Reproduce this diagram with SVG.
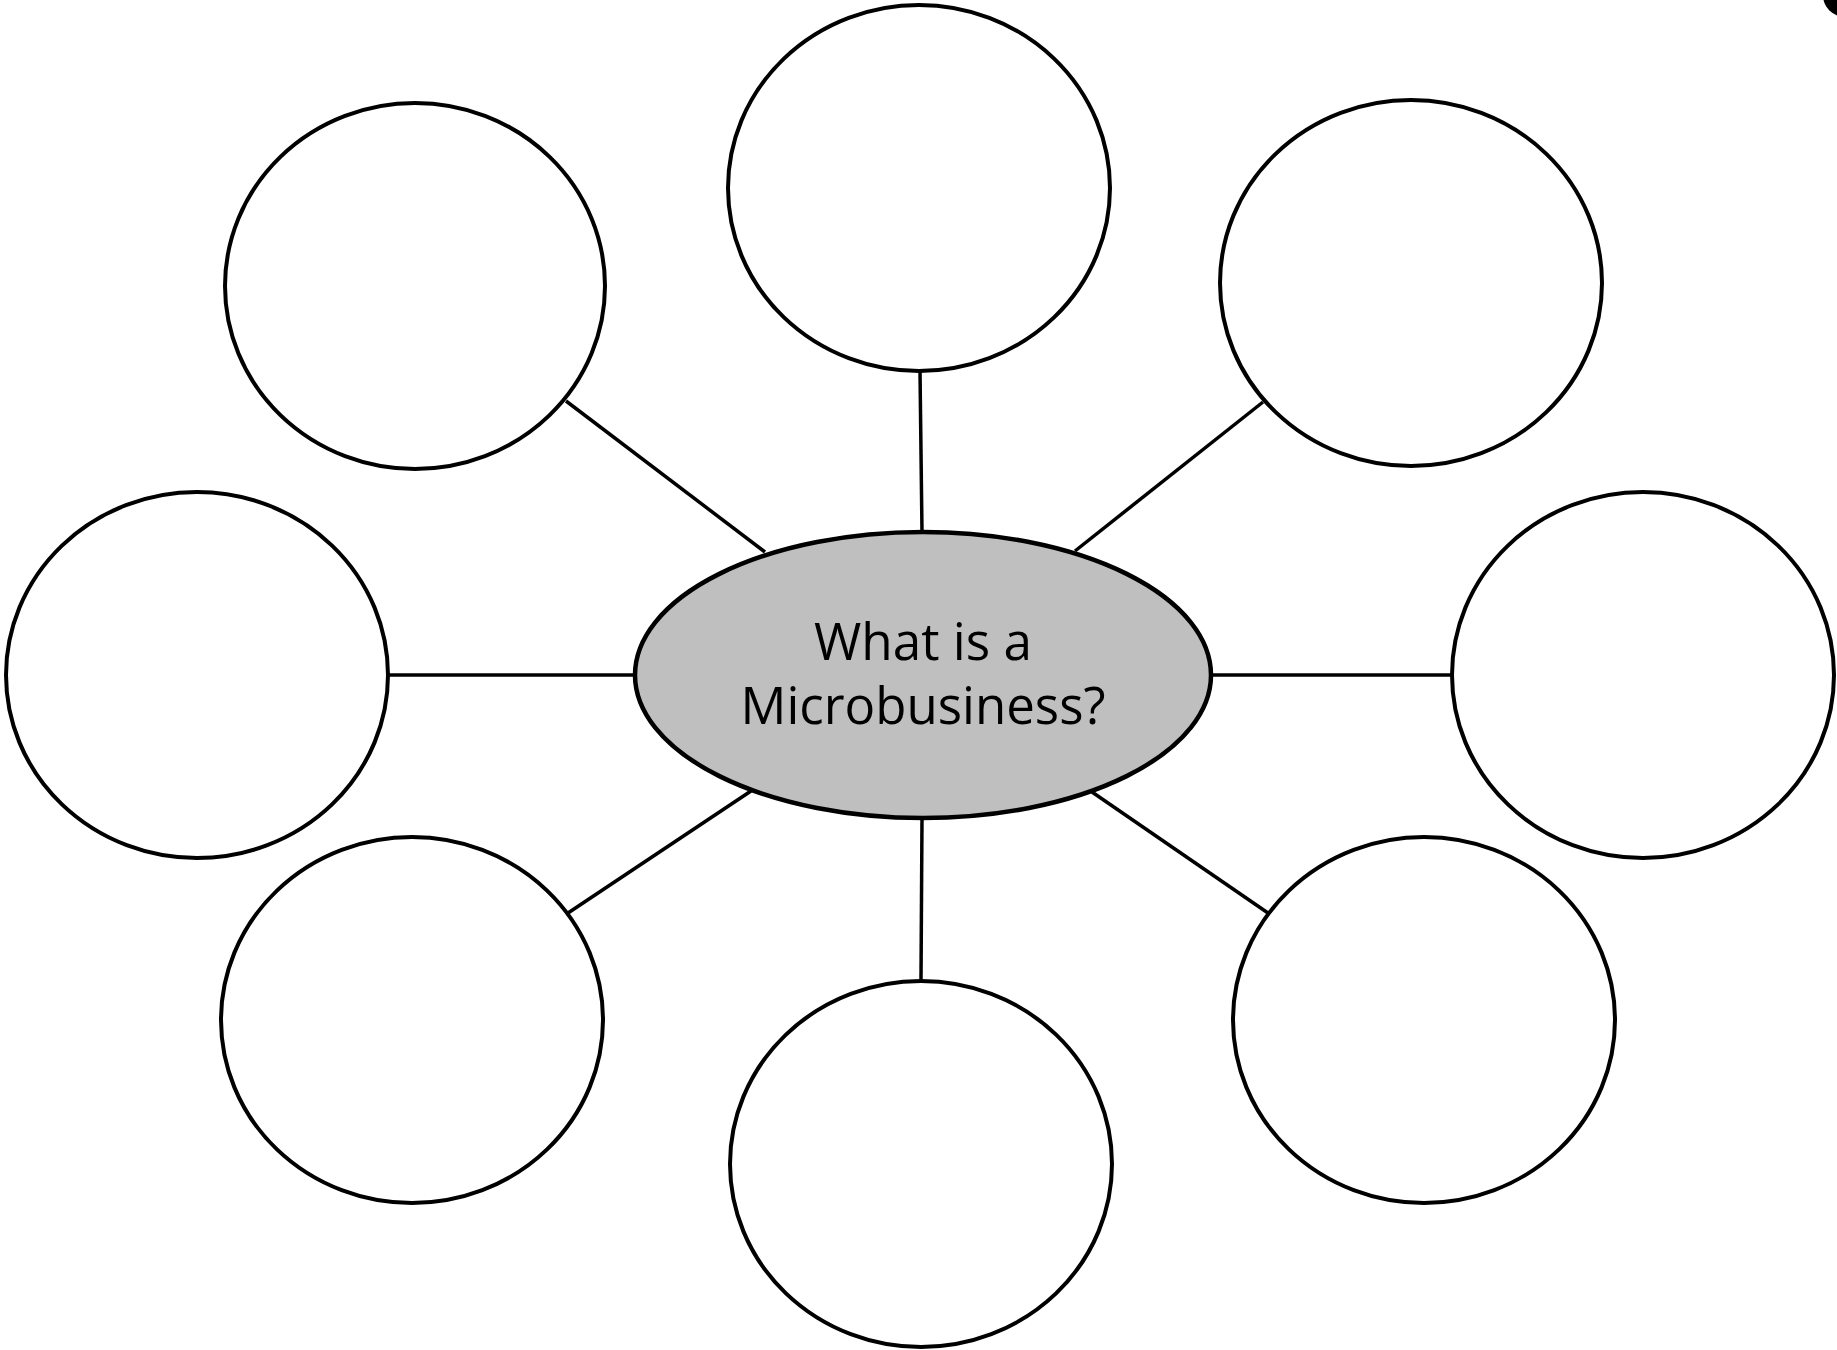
<svg xmlns="http://www.w3.org/2000/svg" width="1837" height="1350" viewBox="0 0 1837 1350">
<style>
.leaf{fill:#ffffff;stroke:#000000;stroke-width:4}
.hub{fill:#bfbfbf;stroke:#000000;stroke-width:4.5}
.conn line{stroke:#000000;stroke-width:3.5}
.lbl{font-family:"Open Sans","Noto Sans","Liberation Sans",sans-serif;font-size:51px;fill:#000000;text-anchor:middle}
</style>
<rect width="1837" height="1350" fill="#ffffff"/>
<g id="connectors" class="conn">
<line x1="566" y1="401" x2="765" y2="552"/>
<line x1="920" y1="371" x2="922" y2="532"/>
<line x1="1263" y1="402" x2="1075" y2="551"/>
<line x1="388" y1="675" x2="634" y2="675"/>
<line x1="1210" y1="675" x2="1452" y2="675"/>
<line x1="568" y1="913" x2="751" y2="791"/>
<line x1="922" y1="818" x2="921" y2="979"/>
<line x1="1092" y1="792" x2="1268" y2="913"/>
</g>
<g id="node-top"><ellipse class="leaf" cx="919" cy="188" rx="191" ry="183"/></g>
<g id="node-top-left"><ellipse class="leaf" cx="415" cy="286" rx="190" ry="183"/></g>
<g id="node-top-right"><ellipse class="leaf" cx="1411" cy="283" rx="191" ry="183"/></g>
<g id="node-left"><ellipse class="leaf" cx="197" cy="675" rx="191" ry="183"/></g>
<g id="node-right"><ellipse class="leaf" cx="1643" cy="675" rx="191" ry="183"/></g>
<g id="node-bottom-left"><ellipse class="leaf" cx="412" cy="1020" rx="191" ry="183"/></g>
<g id="node-bottom"><ellipse class="leaf" cx="921" cy="1164" rx="191" ry="183"/></g>
<g id="node-bottom-right"><ellipse class="leaf" cx="1424" cy="1020" rx="191" ry="183"/></g>
<g id="node-center">
<ellipse class="hub" cx="923" cy="675" rx="288" ry="143"/>
<text class="lbl" x="923" y="660" textLength="218" lengthAdjust="spacingAndGlyphs">What is a</text>
<text class="lbl" x="923" y="724" textLength="365" lengthAdjust="spacingAndGlyphs">Microbusiness?</text>
</g>
<circle cx="1845" cy="-5" r="22" fill="#000000"/>
</svg>
